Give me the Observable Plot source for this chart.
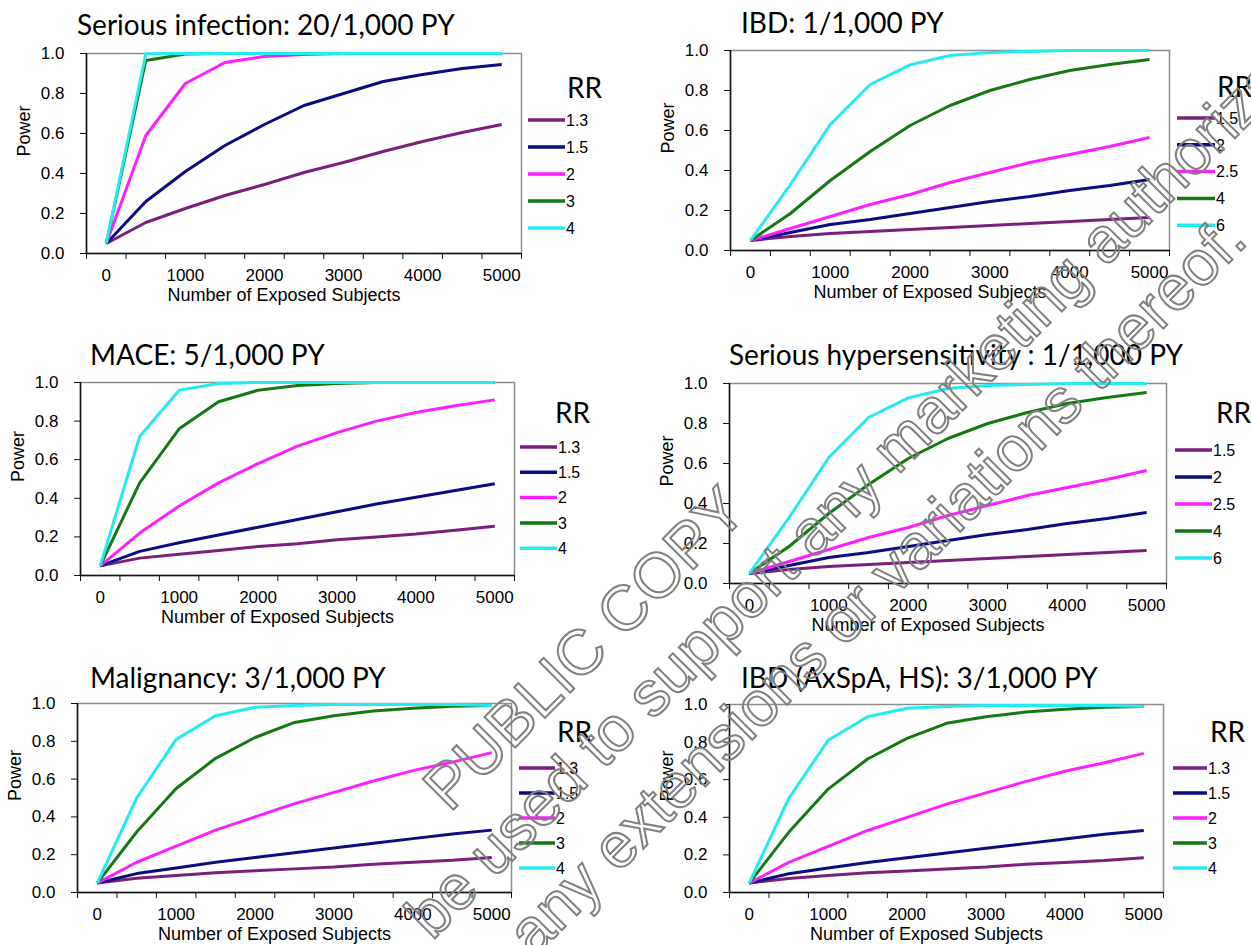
<!DOCTYPE html>
<html><head><meta charset="utf-8">
<script src="https://cdn.jsdelivr.net/npm/d3@7"></script>
<script src="https://cdn.jsdelivr.net/npm/@observablehq/plot@0.6"></script>
<style>
html,body{margin:0;padding:0;background:#fff;}
#page{position:relative;width:1251px;height:945px;overflow:hidden;background:#fff;}
</style></head>
<body><div id="page"></div>
<script>
// ---------- shared axis data ----------
const exposed = [0, 500, 1000, 1500, 2000, 2500, 3000, 3500, 4000, 4500, 5000];
const xTickLabels = [0, 1000, 2000, 3000, 4000, 5000];
const yTicks = [0, 0.2, 0.4, 0.6, 0.8, 1.0];
const seriesColors = ["#7a1f7a", "#0c0c80", "#ff1eff", "#157815", "#25ecec"];
const xAxisTitle = "Number of Exposed Subjects";
const yAxisTitle = "Power";
const legendTitle = "RR";

// ---------- panel 1: Serious infection ----------
const infTitle = "Serious infection: 20/1,000 PY";
const infRR = ["1.3", "1.5", "2", "3", "4"];
const infRR13 = [0.05, 0.155, 0.225, 0.29, 0.345, 0.405, 0.455, 0.51, 0.56, 0.605, 0.645];
const infRR15 = [0.05, 0.26, 0.41, 0.54, 0.645, 0.74, 0.80, 0.86, 0.895, 0.925, 0.945];
const infRR2  = [0.05, 0.59, 0.85, 0.955, 0.985, 0.995, 1, 1, 1, 1, 1];
const infRR3  = [0.05, 0.965, 0.997, 1, 1, 1, 1, 1, 1, 1, 1];
const infRR4  = [0.05, 0.999, 1, 1, 1, 1, 1, 1, 1, 1, 1];

// ---------- panel 2: IBD 1/1,000 ----------
const ibdTitle = "IBD: 1/1,000 PY";
const ibdRR = ["1.5", "2", "2.5", "4", "6"];
const ibdRR15 = [0.05, 0.07, 0.085, 0.095, 0.105, 0.115, 0.125, 0.135, 0.145, 0.155, 0.165];
const ibdRR2  = [0.05, 0.09, 0.13, 0.155, 0.185, 0.215, 0.245, 0.27, 0.30, 0.325, 0.355];
const ibdRR25 = [0.05, 0.11, 0.17, 0.23, 0.28, 0.34, 0.39, 0.44, 0.48, 0.52, 0.565];
const ibdRR4  = [0.05, 0.185, 0.35, 0.495, 0.625, 0.725, 0.80, 0.855, 0.90, 0.93, 0.955];
const ibdRR6  = [0.05, 0.33, 0.63, 0.83, 0.928, 0.975, 0.99, 0.995, 1, 1, 1];

// ---------- panel 3: MACE ----------
const maceTitle = "MACE: 5/1,000 PY";
const maceRR = ["1.3", "1.5", "2", "3", "4"];
const maceRR13 = [0.05, 0.09, 0.11, 0.13, 0.15, 0.165, 0.185, 0.20, 0.215, 0.235, 0.255];
const maceRR15 = [0.05, 0.125, 0.17, 0.21, 0.25, 0.29, 0.33, 0.37, 0.405, 0.44, 0.475];
const maceRR2  = [0.05, 0.22, 0.36, 0.48, 0.58, 0.67, 0.74, 0.80, 0.845, 0.88, 0.91];
const maceRR3  = [0.05, 0.48, 0.76, 0.90, 0.96, 0.985, 0.995, 1, 1, 1, 1];
const maceRR4  = [0.05, 0.72, 0.96, 0.995, 1, 1, 1, 1, 1, 1, 1];

// ---------- panel 4: Serious hypersensitivity ----------
const hypTitle = "Serious hypersensitivity : 1/1,000 PY";
const hypRR = ["1.5", "2", "2.5", "4", "6"];
const hypRR15 = [0.05, 0.07, 0.085, 0.095, 0.105, 0.115, 0.125, 0.135, 0.145, 0.155, 0.165];
const hypRR2  = [0.05, 0.09, 0.13, 0.155, 0.185, 0.215, 0.245, 0.27, 0.30, 0.325, 0.355];
const hypRR25 = [0.05, 0.11, 0.17, 0.23, 0.28, 0.34, 0.39, 0.44, 0.48, 0.52, 0.565];
const hypRR4  = [0.05, 0.185, 0.35, 0.495, 0.625, 0.725, 0.80, 0.855, 0.90, 0.93, 0.955];
const hypRR6  = [0.05, 0.33, 0.63, 0.83, 0.928, 0.975, 0.99, 0.995, 1, 1, 1];

// ---------- panel 5: Malignancy ----------
const malTitle = "Malignancy: 3/1,000 PY";
const malRR = ["1.3", "1.5", "2", "3", "4"];
const malRR13 = [0.05, 0.075, 0.09, 0.105, 0.115, 0.125, 0.135, 0.15, 0.16, 0.17, 0.185];
const malRR15 = [0.05, 0.10, 0.13, 0.16, 0.185, 0.21, 0.235, 0.26, 0.285, 0.31, 0.33];
const malRR2  = [0.05, 0.16, 0.245, 0.33, 0.40, 0.47, 0.53, 0.59, 0.645, 0.69, 0.74];
const malRR3  = [0.05, 0.32, 0.55, 0.71, 0.82, 0.90, 0.935, 0.96, 0.975, 0.985, 0.99];
const malRR4  = [0.05, 0.50, 0.81, 0.935, 0.98, 0.99, 0.995, 0.995, 0.995, 0.995, 0.99];

// ---------- panel 6: IBD (AxSpA, HS) ----------
const ibd3Title = "IBD (AxSpA, HS): 3/1,000 PY";
const ibd3RR = ["1.3", "1.5", "2", "3", "4"];
const ibd3RR13 = [0.05, 0.075, 0.09, 0.105, 0.115, 0.125, 0.135, 0.15, 0.16, 0.17, 0.185];
const ibd3RR15 = [0.05, 0.10, 0.13, 0.16, 0.185, 0.21, 0.235, 0.26, 0.285, 0.31, 0.33];
const ibd3RR2  = [0.05, 0.16, 0.245, 0.33, 0.40, 0.47, 0.53, 0.59, 0.645, 0.69, 0.74];
const ibd3RR3  = [0.05, 0.32, 0.55, 0.71, 0.82, 0.90, 0.935, 0.96, 0.975, 0.985, 0.99];
const ibd3RR4  = [0.05, 0.50, 0.81, 0.935, 0.98, 0.99, 0.995, 0.995, 0.995, 0.995, 0.99];

// ---------- watermark text ----------
const watermarkLines = ["PUBLIC COPY", "be used to support any marketing authorization", "any extensions or variations thereof."];

// ---------- layout (page pixels) ----------
const panels = [
  {title: infTitle, rr: infRR, power: [infRR13, infRR15, infRR2, infRR3, infRR4],
   frame: {l: 86, r: 521, t: 53, b: 253}, titlePos: [77, 35],
   legend: {x1: 528, x2: 565, y0: 120, dy: 27, rrX: 567, rrY: 88}},
  {title: ibdTitle, rr: ibdRR, power: [ibdRR15, ibdRR2, ibdRR25, ibdRR4, ibdRR6],
   frame: {l: 730, r: 1169, t: 50, b: 250}, titlePos: [741, 33],
   legend: {x1: 1177, x2: 1215, y0: 118, dy: 26.8, rrX: 1217, rrY: 87}},
  {title: maceTitle, rr: maceRR, power: [maceRR13, maceRR15, maceRR2, maceRR3, maceRR4],
   frame: {l: 80, r: 514, t: 382, b: 575}, titlePos: [90, 365],
   legend: {x1: 520, x2: 557, y0: 447, dy: 25.3, rrX: 555, rrY: 413}},
  {title: hypTitle, rr: hypRR, power: [hypRR15, hypRR2, hypRR25, hypRR4, hypRR6],
   frame: {l: 729, r: 1166, t: 383, b: 583}, titlePos: [729, 365],
   legend: {x1: 1175, x2: 1212, y0: 450, dy: 27, rrX: 1216, rrY: 413}},
  {title: malTitle, rr: malRR, power: [malRR13, malRR15, malRR2, malRR3, malRR4],
   frame: {l: 77, r: 511, t: 703, b: 892}, titlePos: [90, 688],
   legend: {x1: 519, x2: 555, y0: 768, dy: 25, rrX: 557, rrY: 732}},
  {title: ibd3Title, rr: ibd3RR, power: [ibd3RR13, ibd3RR15, ibd3RR2, ibd3RR3, ibd3RR4],
   frame: {l: 729, r: 1163, t: 704, b: 892}, titlePos: [741, 688],
   legend: {x1: 1173, x2: 1207, y0: 768, dy: 25, rrX: 1210, rrY: 732}}
];

const page = document.getElementById("page");
const sansFont = "'Liberation Sans', Arial, Helvetica, sans-serif";
const titleFont = "Lato, 'Open Sans', sans-serif";

const half = (exposed[1] - exposed[0]) / 2;
const bounds = [...exposed.map(d => d - half), exposed[exposed.length - 1] + half];

panels.forEach(p => {
  const rows = [];
  p.rr.forEach((r, i) => p.power[i].forEach((v, j) => rows.push({n: exposed[j], power: v, rr: r})));
  const ml = 80, mr = 4, mt = 4, mb = 62;
  const fw = p.frame.r - p.frame.l, fh = p.frame.b - p.frame.t;
  const chart = Plot.plot({
    width: fw + ml + mr, height: fh + mt + mb,
    marginLeft: ml, marginRight: mr, marginTop: mt, marginBottom: mb,
    style: {fontFamily: sansFont, fontSize: "17px", color: "#000", background: "transparent", overflow: "visible"},
    x: {domain: [bounds[0], bounds[bounds.length - 1]]},
    y: {domain: [0, 1]},
    color: {domain: p.rr, range: seriesColors},
    marks: [
      Plot.frame({stroke: "#8c8c8c", strokeWidth: 1.5}),
      Plot.line(rows, {x: "n", y: "power", z: "rr", stroke: "rr", strokeWidth: 3, strokeLinejoin: "miter", strokeLinecap: "butt"}),
      Plot.ruleY([0], {stroke: "#111", strokeWidth: 1.5}),
      Plot.ruleX([bounds[0]], {stroke: "#111", strokeWidth: 1.5}),
      Plot.axisX(bounds, {tickSize: 6, tickFormat: () => "", label: null, stroke: "#111"}),
      Plot.axisX(xTickLabels, {tickSize: 0, tickPadding: 15, tickFormat: d => String(d), label: null}),
      Plot.axisY(yTicks, {tickSize: 6, tickPadding: 16, tickFormat: d3.format(".1f"), label: null, stroke: "#111"}),
      Plot.text([xAxisTitle], {text: d => d, frameAnchor: "bottom", dy: 47, dx: -20, fontSize: 18}),
      Plot.text([yAxisTitle], {text: d => d, frameAnchor: "left", dx: -62, dy: 3, rotate: -90, fontSize: 18})
    ]
  });
  chart.style.position = "absolute";
  chart.style.left = (p.frame.l - ml) + "px";
  chart.style.top = (p.frame.t - mt) + "px";
  page.appendChild(chart);
});

// ---------- overlay: titles, legends, watermark ----------
const overlay = d3.select(page).append("svg")
  .attr("width", 1251).attr("height", 945)
  .style("position", "absolute").style("left", "0px").style("top", "0px")
  .style("pointer-events", "none");

panels.forEach(p => {
  overlay.append("text")
    .attr("x", p.titlePos[0]).attr("y", p.titlePos[1])
    .attr("font-family", titleFont).attr("font-size", 28).attr("fill", "#000")
    .text(p.title);
  const L = p.legend;
  overlay.append("text")
    .attr("x", L.rrX).attr("y", L.rrY).attr("dy", "0.36em")
    .attr("font-family", titleFont).attr("font-size", 28).attr("fill", "#000")
    .text(legendTitle);
  p.rr.forEach((r, i) => {
    const y = L.y0 + i * L.dy;
    overlay.append("line")
      .attr("x1", L.x1).attr("x2", L.x2).attr("y1", y).attr("y2", y)
      .attr("stroke", seriesColors[i]).attr("stroke-width", 3.5);
    overlay.append("text")
      .attr("x", L.x2 + 1).attr("y", y).attr("dy", "0.36em")
      .attr("font-family", sansFont).attr("font-size", 16).attr("fill", "#000")
      .text(r);
  });
});

const wm = overlay.append("g").attr("transform", "rotate(-45)");
const wmPos = [[-257, 893], [-360, 971], [-300, 1055]];
watermarkLines.forEach((t, i) => {
  wm.append("text")
    .attr("x", wmPos[i][0]).attr("y", wmPos[i][1])
    .attr("font-family", sansFont).attr("font-size", 63)
    .attr("fill", "none").attr("stroke", "#808080").attr("stroke-width", 2)
    .text(t);
});
</script>
</body></html>
